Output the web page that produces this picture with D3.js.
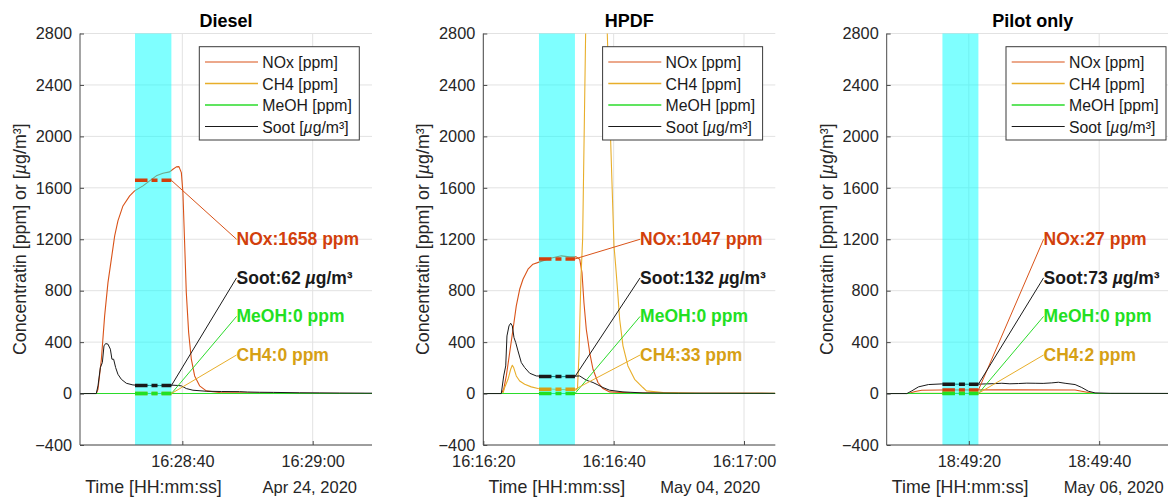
<!DOCTYPE html>
<html><head><meta charset="utf-8">
<script src="https://cdn.jsdelivr.net/npm/d3@7"></script>
<style>
body{margin:0;background:#fff;}
svg{display:block;font-family:"Liberation Sans",Arial,Helvetica,sans-serif;}
</style>
</head><body>
<svg id="chart" width="1168" height="497"></svg>
<script>
// ---------------- DATA ----------------
const panelTitles = ["Diesel", "HPDF", "Pilot only"];
const seriesNames = ["NOx", "CH4", "MeOH", "Soot"];
const seriesUnits = ["ppm", "ppm", "ppm", "µg/m³"];
const yTickValues = [-400, 0, 400, 800, 1200, 1600, 2000, 2400, 2800];
const yDomain = [-400, 2800];
// time = seconds after the panel's base minute
const xDomains = [[24.3, 69.1], [20, 64.8], [7.4, 52.2]];
const xTickValues = [[40, 60], [20, 40, 60], [20, 40]];
const xTickLabels = [["16:28:40", "16:29:00"], ["16:16:20", "16:16:40", "16:17:00"], ["18:49:20", "18:49:40"]];
const dateLabels = ["Apr 24, 2020", "May 04, 2020", "May 06, 2020"];
const bandStart = [32.74, 28.54, 15.95];
const bandEnd = [38.32, 34.06, 21.47];
const meanValues = [[1658, 0, 0, 62], [1047, 33, 0, 132], [27, 2, 0, 73]];
const labelAnchorValues = [1200, 300, 600, 900]; // NOx, CH4, MeOH, Soot
const labelAnchorDelay = 10; // seconds after band end

const dieselNOx = [[24.3,0],[26.8,0],[27.06,34],[27.58,267],[28.08,604],[28.59,863],[29.11,1045],[29.62,1226],[30.12,1343],[30.89,1459],[31.92,1537],[32.68,1576],[33.96,1615],[34.98,1654],[36.01,1693],[37.02,1713],[38.05,1724],[38.56,1744],[39.08,1763],[39.48,1765],[39.85,1718],[40.09,1563],[40.35,1174],[40.61,785],[40.97,474],[41.38,267],[41.89,137],[42.65,60],[43.68,21],[45.72,8],[51.86,4],[58,2],[69.1,1]];
const dieselCH4 = [[24.3,0],[69.1,0]];
const dieselMeOH = [[24.3,0],[69.1,0]];
const dieselSoot = [[24.3,0],[26.8,0],[27.06,60],[27.42,202],[27.73,241],[27.98,371],[28.24,389],[28.59,384],[28.96,345],[29.2,267],[29.46,267],[29.77,202],[30.12,150],[30.64,111],[31.41,80],[32.42,67],[33.5,64],[34.98,63],[36.5,62],[38.56,65],[39.3,63],[39.85,60],[40.61,39],[41.63,26],[43.68,18],[46,16],[48.79,15],[50,12],[51.86,10],[54,9],[58,6],[61,5],[64.13,4],[69.1,3]];

const hpdfNOx = [[20,0],[22.76,0],[23.13,34],[23.53,137],[24.05,319],[24.56,500],[25.06,682],[25.58,811],[26.09,889],[26.86,967],[27.62,1006],[28.65,1024],[30.18,1050],[31.96,1071],[33.25,1063],[34.26,1063],[34.79,1045],[35.14,941],[35.44,708],[35.8,500],[36.32,319],[36.83,189],[37.59,86],[38.36,39],[39.39,13],[42.5,5],[50,2],[64.8,1]];
const hpdfCH4 = [[20,0],[23,0],[23.28,47],[23.79,111],[24.2,189],[24.45,220],[24.66,202],[25.06,137],[25.58,98],[26.35,73],[27.36,52],[28.39,39],[31,33],[34.26,28],[34.45,40],[34.68,300],[34.98,900],[35.24,1200],[35.7,2800],[36.36,4500],[37.44,5500],[38.36,4500],[39.02,2800],[40.05,1150],[40.3,1000],[40.55,837],[40.92,578],[41.43,371],[42.19,215],[43.22,111],[44.49,47],[45.03,21],[47.57,8],[53.2,3],[64.8,2]];
const hpdfMeOH = [[20,0],[64.8,0]];
const hpdfSoot = [[20,0],[22.76,0],[23.13,137],[23.44,215],[23.63,448],[23.94,526],[24.2,547],[24.45,526],[24.71,435],[24.97,397],[25.32,332],[25.83,241],[26.35,202],[27.12,158],[28.13,137],[30,133],[32,131],[34.79,137],[35.8,104],[36.83,86],[37.59,67],[38.36,47],[39.39,26],[41.43,13],[44.5,5],[50,3],[64.8,2]];

const pilotNOx = [[7.4,0],[10.74,0],[11.76,16],[12.79,26],[15.6,28],[24.8,29],[36.3,28],[37.33,18],[38.34,8],[39.11,3],[45,1],[52.2,0]];
const pilotCH4 = [[7.4,0],[10.74,0],[11.8,2],[39,2],[40,0],[52.2,0]];
const pilotMeOH = [[7.4,0],[52.2,0]];
const pilotSoot = [[7.4,0],[10.49,0],[11.26,21],[12.27,52],[13.8,70],[15.86,75],[18,73],[21,72],[22.5,75],[23.8,77],[25.06,80],[26.3,76],[27.61,78],[28.9,81],[30.17,80],[31.4,79],[32.73,83],[33.74,88],[34.77,80],[36.3,70],[37.33,47],[38.34,18],[39.37,5],[41.67,2],[52.2,1]];

const panelSeries = [
  [dieselNOx, dieselCH4, dieselMeOH, dieselSoot],
  [hpdfNOx, hpdfCH4, hpdfMeOH, hpdfSoot],
  [pilotNOx, pilotCH4, pilotMeOH, pilotSoot]
];

// ---------------- STYLE / LAYOUT ----------------
const lineColors = ["#D95319", "#E8AE2A", "#2BDB2B", "#1a1a1a"];
const textColors = ["#D23F0C", "#D6A015", "#22E022", "#1a1a1a"];
const panelLeft = [80, 483.3, 886.7];
const plotW = 292, plotTop = 33.5, plotBottom = 445;
const tickColor = "#262626";

const svg = d3.select("#chart");
const defs = svg.append("defs");

function unitTspans(sel, unit) {
  if (unit === "ppm") { sel.append("tspan").text("ppm"); return; }
  sel.append("tspan").attr("font-style", "italic").text("µ");
  sel.append("tspan").text("g/m³");
}

panelTitles.forEach((title, p) => {
  const L = panelLeft[p], R = L + plotW;
  const x = d3.scaleLinear().domain(xDomains[p]).range([L, R]);
  const y = d3.scaleLinear().domain(yDomain).range([plotBottom, plotTop]);
  const g = svg.append("g");

  defs.append("clipPath").attr("id", "clip" + p)
    .append("rect").attr("x", L).attr("y", plotTop).attr("width", plotW).attr("height", plotBottom - plotTop);

  // grid
  g.append("g").selectAll("line").data(yTickValues).join("line")
    .attr("x1", L).attr("x2", R).attr("y1", d => y(d)).attr("y2", d => y(d))
    .attr("stroke", "#e2e2e2").attr("stroke-width", 1);
  g.append("g").selectAll("line").data(xTickValues[p]).join("line")
    .attr("x1", d => x(d)).attr("x2", d => x(d)).attr("y1", plotTop).attr("y2", plotBottom)
    .attr("stroke", "#e2e2e2").attr("stroke-width", 1);

  // curves
  const line = d3.line().x(d => x(d[0])).y(d => y(d[1]));
  const cg = g.append("g").attr("clip-path", `url(#clip${p})`);
  panelSeries[p].forEach((s, i) => {
    cg.append("path").datum(s).attr("d", line).attr("fill", "none")
      .attr("stroke", lineColors[i]).attr("stroke-width", i === 3 ? 1 : 1.1)
      .attr("stroke-linejoin", "round");
  });

  // band
  g.append("rect").attr("x", x(bandStart[p])).attr("y", plotTop)
    .attr("width", x(bandEnd[p]) - x(bandStart[p])).attr("height", plotBottom - plotTop)
    .attr("fill", "#00FFFF").attr("fill-opacity", 0.5);

  // axes
  const axL = g.append("g").attr("transform", `translate(${L},0)`)
    .call(d3.axisLeft(y).tickValues(yTickValues).tickSize(-4).tickPadding(8).tickFormat(d3.format("d")));
  const axB = g.append("g").attr("transform", `translate(0,${plotBottom})`)
    .call(d3.axisBottom(x).tickValues(xTickValues[p]).tickSize(-4).tickPadding(10)
      .tickFormat((d, i) => xTickLabels[p][i]));
  [axL, axB].forEach(a => {
    a.select(".domain").attr("stroke", "#4a4a4a").attr("stroke-width", 1);
    a.selectAll(".tick line").attr("stroke", "#4a4a4a");
    a.selectAll("text").attr("fill", tickColor).attr("font-size", "16.3px")
      .attr("font-family", '"Liberation Sans",Arial,sans-serif');
  });
  axL.select(".domain").attr("d", `M0,${plotBottom}V${plotTop}`);
  axB.select(".domain").attr("d", `M${L},0H${R}`);
  axB.selectAll(".tick text").attr("dy", "0.71em");

  // mean dashes
  meanValues[p].forEach((m, i) => {
    g.append("line").attr("x1", x(bandStart[p])).attr("x2", x(bandEnd[p]))
      .attr("y1", y(m)).attr("y2", y(m))
      .attr("stroke", textColors[i]).attr("stroke-width", 3.5)
      .attr("stroke-dasharray", "12.5,4,6,4");
  });

  // annotation lines + labels
  const order = [0, 3, 2, 1];
  order.forEach(i => {
    const tx = x(bandEnd[p] + labelAnchorDelay), ty = y(labelAnchorValues[i]);
    g.append("line").attr("x1", x(bandEnd[p])).attr("y1", y(meanValues[p][i]))
      .attr("x2", tx).attr("y2", ty).attr("stroke", lineColors[i]).attr("stroke-width", 1);
    const t = g.append("text").attr("x", tx).attr("y", ty).attr("dominant-baseline", "central")
      .attr("font-weight", "bold").attr("font-size", "17.5px").attr("fill", textColors[i]);
    t.append("tspan").text(`${seriesNames[i]}:${meanValues[p][i]} `);
    unitTspans(t, seriesUnits[i]);
  });

  // legend
  const lw = 160, lh = 93.3, lx = R - 12.7 - lw, ly = 46.7;
  const lg = g.append("g");
  lg.append("rect").attr("x", lx).attr("y", ly).attr("width", lw).attr("height", lh)
    .attr("fill", "#fff").attr("stroke", "#3a3a3a").attr("stroke-width", 1);
  const rowY = [62, 83.5, 105, 126.5];
  seriesNames.forEach((n, i) => {
    lg.append("line").attr("x1", lx + 5.7).attr("x2", lx + 58.7).attr("y1", rowY[i]).attr("y2", rowY[i])
      .attr("stroke", lineColors[i]).attr("stroke-width", i === 1 || i === 2 ? 1.4 : 1.1);
    const t = lg.append("text").attr("x", lx + 63).attr("y", rowY[i]).attr("dominant-baseline", "central")
      .attr("font-size", "15.8px").attr("fill", "#1a1a1a");
    t.append("tspan").text(`${n} [`);
    unitTspans(t, seriesUnits[i]);
    t.append("tspan").text("]");
  });

  // title
  g.append("text").attr("x", (L + R) / 2).attr("y", 20.7).attr("text-anchor", "middle")
    .attr("dominant-baseline", "central").attr("font-weight", "bold").attr("font-size", "18px")
    .attr("fill", "#000").text(title);

  // y label
  const yl = g.append("text").attr("transform", `translate(${L - 60},${(plotTop + plotBottom) / 2}) rotate(-90)`)
    .attr("text-anchor", "middle").attr("dominant-baseline", "central")
    .attr("font-size", "17.8px").attr("fill", tickColor);
  yl.append("tspan").text("Concentratin [ppm] or [");
  yl.append("tspan").attr("font-style", "italic").text("µ");
  yl.append("tspan").text("g/m³]");

  // x label and date
  g.append("text").attr("x", L + 73.5).attr("y", 487).attr("text-anchor", "middle")
    .attr("dominant-baseline", "central").attr("font-size", "17.8px").attr("fill", tickColor)
    .text("Time [HH:mm:ss]");
  g.append("text").attr("x", R - 15).attr("y", 487).attr("text-anchor", "end")
    .attr("dominant-baseline", "central").attr("font-size", "16.5px").attr("fill", tickColor)
    .text(dateLabels[p]);
});
</script>
</body></html>
